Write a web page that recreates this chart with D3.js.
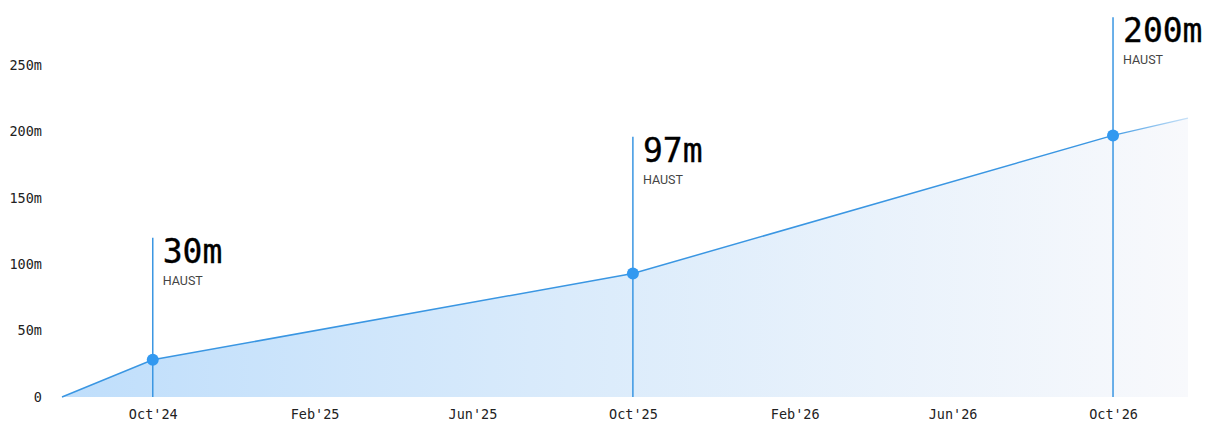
<!DOCTYPE html>
<html>
<head>
<meta charset="utf-8">
<script src="https://cdn.jsdelivr.net/npm/d3@7"></script>
<style>
	body { margin: 0; background: #fff; }
	svg { display: block; }
</style>
</head>
<body>
<div id="chart"></div>
<script>
// series (values in millions)
let dates = ["2024-07-24", "2024-10-01", "2025-10-01", "2026-10-01", "2026-11-27"];
let values = [0, 28, 93, 197, 210];

// callouts
let markDates = ["2024-10-01", "2025-10-01", "2026-10-01"];
let markValues = [28, 93, 197];
let markLabels = ["30m", "97m", "200m"];
let markSub = ["HAUST", "HAUST", "HAUST"];
let markTops = [120, 196, 286];

// axis ticks
let yTicks = [0, 50, 100, 150, 200, 250];
let xTicks = ["2024-10-01", "2025-02-01", "2025-06-01", "2025-10-01", "2026-02-01", "2026-06-01", "2026-10-01"];

let width = 1215;
let height = 421;
let mono = "'DejaVu Sans Mono', 'Liberation Mono', monospace";

let parse = d3.timeParse("%Y-%m-%d");
let fmt = d3.timeFormat("%b'%y");

let data = dates.map((d, i) => ({ date: parse(d), value: values[i] }));
let marks = markDates.map((d, i) => ({
	date: parse(d), value: markValues[i], label: markLabels[i], sub: markSub[i], top: markTops[i]
}));

let x = d3.scaleTime()
	.domain([parse("2024-07-24"), parse("2026-11-27")])
	.range([62, 1188]);

let y = d3.scaleLinear()
	.domain([0, 250])
	.range([397, 65]);

let svg = d3.select("#chart")
	.append("svg")
	.attr("width", width)
	.attr("height", height);

let defs = svg.append("defs");

let grad = defs.append("linearGradient")
	.attr("id", "fillGrad")
	.attr("gradientUnits", "userSpaceOnUse")
	.attr("x1", 62).attr("x2", 1188)
	.attr("y1", 0).attr("y2", 0);
grad.append("stop").attr("offset", "0%").attr("stop-color", "#bfdefb");
grad.append("stop").attr("offset", "45%").attr("stop-color", "#daebfb");
grad.append("stop").attr("offset", "100%").attr("stop-color", "#f8f9fc");

let lineGrad = defs.append("linearGradient")
	.attr("id", "lineGrad")
	.attr("gradientUnits", "userSpaceOnUse")
	.attr("x1", 62).attr("x2", 1188)
	.attr("y1", 0).attr("y2", 0);
lineGrad.append("stop").attr("offset", "0%").attr("stop-color", "#3a96e2");
lineGrad.append("stop").attr("offset", "93%").attr("stop-color", "#3a96e2");
lineGrad.append("stop").attr("offset", "100%").attr("stop-color", "#c9e2f8");

let area = d3.area()
	.x(d => x(d.date))
	.y0(y(0))
	.y1(d => y(d.value));

let line = d3.line()
	.x(d => x(d.date))
	.y(d => y(d.value));

svg.append("path")
	.datum(data)
	.attr("d", area)
	.attr("fill", "url(#fillGrad)");

svg.append("path")
	.datum(data)
	.attr("d", line)
	.attr("fill", "none")
	.attr("stroke", "url(#lineGrad)")
	.attr("stroke-width", 1.5);

// y axis
let yAxis = svg.append("g")
	.attr("transform", "translate(42,0)")
	.call(d3.axisLeft(y).tickValues(yTicks).tickSize(0).tickPadding(0)
		.tickFormat(d => d === 0 ? "0" : d + "m"));
yAxis.select(".domain").remove();
yAxis.selectAll("text")
	.attr("font-family", mono)
	.attr("font-size", 13.5)
	.attr("fill", "#222");

// x axis
let xAxis = svg.append("g")
	.attr("transform", "translate(0,409)")
	.call(d3.axisBottom(x).tickValues(xTicks.map(parse)).tickSize(0).tickPadding(0)
		.tickFormat(fmt));
xAxis.select(".domain").remove();
xAxis.selectAll("text")
	.attr("font-family", mono)
	.attr("font-size", 13.5)
	.attr("fill", "#222");

// callouts
let g = svg.selectAll(".mark")
	.data(marks)
	.enter()
	.append("g")
	.attr("class", "mark");

g.append("line")
	.attr("x1", d => x(d.date))
	.attr("x2", d => x(d.date))
	.attr("y1", d => y(d.top))
	.attr("y2", y(0))
	.attr("stroke", "#3a96e2")
	.attr("stroke-width", 1.5);

g.append("circle")
	.attr("cx", d => x(d.date))
	.attr("cy", d => y(d.value))
	.attr("r", 6)
	.attr("fill", "#3399f0");

g.append("text")
	.attr("x", d => x(d.date) + 10)
	.attr("y", d => y(d.top) + 25)
	.attr("font-family", mono)
	.attr("font-size", 33)
	.attr("fill", "#000")
	.attr("stroke", "#000")
	.attr("stroke-width", 0.35)
	.text(d => d.label);

g.append("text")
	.attr("x", d => x(d.date) + 10)
	.attr("y", d => y(d.top) + 47)
	.attr("font-family", "Roboto, sans-serif")
	.attr("font-size", 12.5)
	.attr("fill", "#444")
	.text(d => d.sub);
</script>
</body>
</html>
